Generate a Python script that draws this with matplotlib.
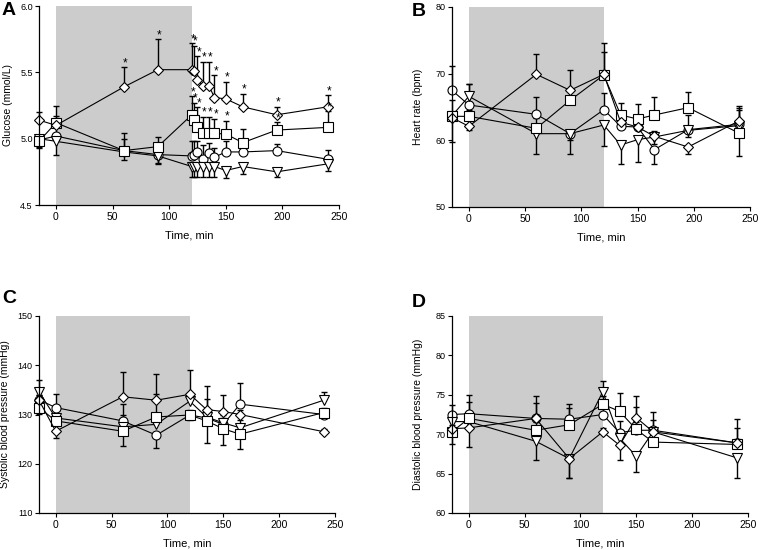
import numpy as np
import matplotlib.pyplot as plt

plt.rcParams["font.family"] = ["Liberation Sans", "DejaVu Sans"]

# ---- panel A: glucose ----
tA = [-15, 0, 60, 90, 120, 122, 125, 130, 135, 140, 150, 165, 195, 240]
glu_dia = [5.14, 5.10, 5.39, 5.52, 5.52, 5.51, 5.44, 5.40, 5.40, 5.31, 5.30, 5.24, 5.18, 5.24]
glu_dia_err = [0.06, 0.02, 0.15, 0.23, 0.20, 0.19, 0.18, 0.18, 0.18, 0.17, 0.13, 0.10, 0.06, 0.09]
glu_sq = [4.98, 5.12, 4.91, 4.94, 5.18, 5.14, 5.085, 5.045, 5.045, 5.04, 5.035, 4.97, 5.065, 5.085]
glu_sq_err = [-0.05, 0.13, 0.13, 0.07, 0.14, 0.13, 0.15, 0.12, 0.12, 0.11, 0.10, 0.10, 0.06, 0.12]
glu_ci = [4.99, 5.02, 4.91, 4.88, 4.87, 4.88, 4.90, 4.85, 4.89, 4.86, 4.90, 4.90, 4.91, 4.845]
glu_ci_err = [0.04, 0.15, 0.09, -0.07, 0.11, 0.10, 0.08, 0.10, 0.08, 0.07, 0.08, 0.07, 0.05, 0.07]
glu_tri = [5.00, 4.98, 4.90, 4.87, 4.79, 4.79, 4.79, 4.79, 4.79, 4.79, 4.76, 4.79, 4.75, 4.81]
glu_tri_err = [-0.06, -0.10, -0.06, -0.05, -0.08, -0.08, -0.08, -0.08, -0.08, -0.08, -0.06, -0.06, -0.04, -0.05]
stars_dia = [60, 90, 120, 122, 125, 130, 135, 140, 150, 165, 195, 240]
stars_sq = [120, 122, 125, 130, 135, 140, 150, 195, 240]

# ---- panel B: heart rate ----
tB = [-15, 0, 60, 90, 120, 135, 150, 165, 195, 240]
hr_dia = [63.4, 62.1, 69.9, 67.5, 69.9, 62.7, 62.0, 60.6, 59.0, 62.9]
hr_dia_err = [0.5, -0.5, 3.1, 3.1, 4.7, 1.0, 1.0, 0.8, -1.0, 2.2]
hr_sq = [63.6, 63.6, 61.8, 66.0, 69.8, 63.8, 63.2, 63.8, 64.9, 61.1]
hr_sq_err = [-3.9, 1.0, 1.5, 1.5, 3.4, 1.8, 2.3, 2.7, 2.4, -3.4]
hr_ci = [67.5, 65.3, 63.9, 61.0, 64.6, 62.1, 62.0, 58.6, 61.6, 62.4]
hr_ci_err = [3.7, 3.2, 2.6, -3.0, 2.5, 1.0, 0.8, -2.1, 2.2, 2.5]
hr_tri = [63.7, 66.6, 61.0, 61.0, 62.3, 59.3, 60.1, 60.5, 61.5, 62.2]
hr_tri_err = [2.4, 1.9, -3.1, -1.0, -3.2, -2.9, -3.3, -1.0, -1.0, 2.4]

# ---- panels C/D: blood pressure ----
tC = [-15, 0, 60, 90, 120, 135, 150, 165, 240]
sbp_dia = [132.9, 126.6, 133.6, 132.9, 134.1, 131.0, 130.6, 130.0, 126.5]
sbp_dia_err = [1.0, -1.4, 5.0, 5.3, 4.9, 4.8, 3.4, 1.0, 0.5]
sbp_sq = [131.4, 128.7, 126.6, 129.5, 129.9, 128.7, 127.1, 126.0, 130.4]
sbp_sq_err = [-1.2, 1.0, -3.0, 4.7, -1.0, -4.5, -3.3, -3.1, 1.0]
sbp_ci = [133.0, 131.4, 128.7, 125.8, 129.9, 129.3, 128.0, 132.1, 130.0]
sbp_ci_err = [1.0, 2.8, 3.5, -2.7, 1.0, 3.9, 2.0, 4.2, 1.0]
sbp_tri = [134.6, 129.3, 127.5, 128.0, 132.7, 129.5, 128.3, 127.3, 132.9]
sbp_tri_err = [2.4, 1.0, 2.5, 1.0, 1.0, 1.0, 1.0, 1.5, 1.7]

dbp_dia = [70.7, 70.8, 72.0, 66.9, 70.3, 68.6, 72.1, 70.3, 68.9]
dbp_dia_err = [0.5, -2.4, 2.9, -2.5, 0.5, -1.9, 2.7, 0.5, 0.5]
dbp_sq = [70.3, 72.0, 70.5, 71.2, 73.8, 72.9, 70.6, 69.0, 68.7]
dbp_sq_err = [-1.5, 2.1, 1.0, 2.1, 1.0, 2.3, 2.9, 1.0, 2.1]
dbp_ci = [72.5, 72.6, 72.0, 71.9, 72.5, 70.2, 70.5, 70.5, 68.9]
dbp_ci_err = [1.2, 2.4, 2.0, 1.9, 1.0, 1.5, 1.0, 2.3, 3.0]
dbp_tri = [71.6, 71.6, 69.1, 66.9, 75.4, 69.5, 67.2, 70.3, 67.0]
dbp_tri_err = [1.0, 1.0, -2.4, -2.5, 1.3, -1.0, -2.0, 1.5, -2.6]

xticks = [0, 50, 100, 150, 200, 250]


def draw(ax, t, y, err, marker, ms):
    t, y, err = np.asarray(t, float), np.asarray(y, float), np.asarray(err, float)
    top = y + err
    ax.vlines(t, y, top, color="k", lw=1.0, zorder=2, clip_on=False)
    ax.plot(t, top, ls="none", marker="_", ms=5, mew=1.0, color="k", zorder=2, clip_on=False)
    ax.plot(t, y, color="k", lw=0.8, marker=marker, ms=ms,
            mfc="white", mec="k", mew=0.8, zorder=3, clip_on=False)


def style(ax, ylim, yticks, ylabel, yfmt, ylab_x):
    ax.axvspan(0, 120, color="#cccccc", lw=0, zorder=0)
    ax.set_xlim(-15, 250)
    ax.set_ylim(*ylim)
    ax.set_xticks(xticks)
    ax.set_yticks(yticks)
    ax.set_yticklabels([yfmt.format(v) for v in yticks])
    for s in ["top", "right"]:
        ax.spines[s].set_visible(False)
    for s in ["left", "bottom"]:
        ax.spines[s].set_linewidth(0.9)
        ax.spines[s].set_zorder(4)
    ax.tick_params(direction="out", length=3, width=0.8, labelsize=7.5, pad=2)
    ax.tick_params(axis="y", labelsize=6.5, pad=1.5)
    ax.set_ylabel(ylabel, fontsize=7.5)
    ax.yaxis.set_label_coords(ylab_x, 0.5)
    ax.set_xlabel("Time, min", fontsize=8)
    ax.xaxis.set_label_coords(0.5, -0.13)


fig = plt.figure(figsize=(7.6, 5.5), dpi=100)
axA = fig.add_axes([39 / 760, 1 - 205 / 550, 300 / 760, 199 / 550])
axB = fig.add_axes([452 / 760, 1 - 207 / 550, 298 / 760, 200 / 550])
axC = fig.add_axes([39 / 760, 1 - 513 / 550, 296 / 760, 197 / 550])
axD = fig.add_axes([452 / 760, 1 - 513 / 550, 296 / 760, 197 / 550])

# A
style(axA, (4.5, 6.0), [4.5, 5.0, 5.5, 6.0], "Glucose (mmol/L)", "{:.1f}", -0.088)
draw(axA, tA, glu_ci, glu_ci_err, "o", 6.5)
draw(axA, tA, glu_tri, glu_tri_err, "v", 6.5)
draw(axA, tA, glu_sq, glu_sq_err, "s", 6.5)
draw(axA, tA, glu_dia, glu_dia_err, "D", 5)
for t_s, vals, errs in [(stars_dia, glu_dia, glu_dia_err), (stars_sq, glu_sq, glu_sq_err)]:
    for ts in t_s:
        i = tA.index(ts)
        axA.annotate("*", (ts, vals[i] + max(errs[i], 0)), xytext=(1, -1.5),
                     textcoords="offset points", ha="center", va="bottom", fontsize=8.5)

# B
style(axB, (50, 80), [50, 60, 70, 80], "Heart rate (bpm)", "{:d}", -0.097)
draw(axB, tB, hr_ci, hr_ci_err, "o", 6.5)
draw(axB, tB, hr_tri, hr_tri_err, "v", 6.5)
draw(axB, tB, hr_sq, hr_sq_err, "s", 6.5)
draw(axB, tB, hr_dia, hr_dia_err, "D", 5)

# C
style(axC, (110, 150), [110, 120, 130, 140, 150], "Systolic blood pressure (mmHg)", "{:d}", -0.098)
draw(axC, tC, sbp_ci, sbp_ci_err, "o", 6.5)
draw(axC, tC, sbp_tri, sbp_tri_err, "v", 6.5)
draw(axC, tC, sbp_sq, sbp_sq_err, "s", 6.5)
draw(axC, tC, sbp_dia, sbp_dia_err, "D", 5)

# D
style(axD, (60, 85), [60, 65, 70, 75, 80, 85], "Diastolic blood pressure (mmHg)", "{:d}", -0.097)
draw(axD, tC, dbp_ci, dbp_ci_err, "o", 6.5)
draw(axD, tC, dbp_tri, dbp_tri_err, "v", 6.5)
draw(axD, tC, dbp_sq, dbp_sq_err, "s", 6.5)
draw(axD, tC, dbp_dia, dbp_dia_err, "D", 5)

for lab, x, y in [("A", 2, 2), ("B", 412, 3), ("C", 2, 290), ("D", 412, 294)]:
    fig.text(x / 760, 1 - y / 550, lab, fontsize=14, fontweight="bold", va="top", ha="left")

fig.savefig("out.png", dpi=100)
